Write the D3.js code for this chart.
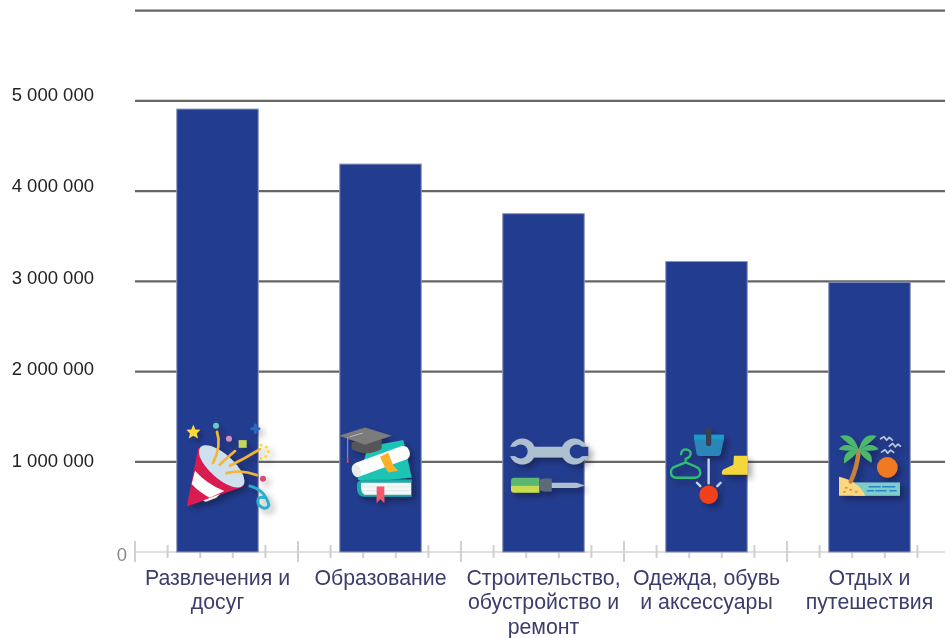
<!DOCTYPE html>
<html>
<head>
<meta charset="utf-8">
<script src="https://cdnjs.cloudflare.com/ajax/libs/d3/7.8.5/d3.min.js"></script>
<style>
  html, body { margin: 0; padding: 0; background: #fff; }
  svg { display: block; }
  text { font-family: "Liberation Sans", Arial, sans-serif; }
</style>
</head>
<body>
<div id="chart"></div>
<script>
var width = 945,
  height = 638;

var categories = [
  ['Развлечения и', 'досуг'],
  ['Образование'],
  ['Строительство,', 'обустройство и', 'ремонт'],
  ['Одежда, обувь', 'и аксессуары'],
  ['Отдых и', 'путешествия']
];
var values = [4910000, 4300000, 3750000, 3220000, 2990000];
var gridValues = [1000000, 2000000, 3000000, 4000000, 5000000, 6000000];
var tickLabels = ['1 000 000', '2 000 000', '3 000 000', '4 000 000', '5 000 000'];
var tickValues = [1000000, 2000000, 3000000, 4000000, 5000000];
var icons = ['party', 'books', 'tools', 'clothes', 'beach'];

var root = d3.select('#chart').append('svg')
  .attr('width', width)
  .attr('height', height);

var defs = root.append('defs');

var filter = defs.append('filter')
  .attr('id', 'shadow')
  .attr('x', '-30%').attr('y', '-30%')
  .attr('width', '170%').attr('height', '170%');
filter.append('feDropShadow')
  .attr('dx', 12).attr('dy', 12)
  .attr('stdDeviation', 9)
  .attr('flood-color', '#000')
  .attr('flood-opacity', 0.33);

// the original is a slightly soft screenshot
defs.append('filter')
  .attr('id', 'soft')
  .attr('filterUnits', 'userSpaceOnUse')
  .attr('x', 0).attr('y', 0)
  .attr('width', width).attr('height', height)
  .append('feGaussianBlur')
  .attr('stdDeviation', 0.4);

var svg = root.append('g').attr('filter', 'url(#soft)');

var x = d3.scaleBand()
  .domain(d3.range(categories.length))
  .range([136, 951])
  .paddingInner(0.5)
  .paddingOuter(0.25);

var y = d3.scaleLinear()
  .domain([0, 6000000])
  .range([552, 10.7]);

// the value labels do not sit quite on the grid lines in the original
var labelY = d3.scaleLinear()
  .domain([1000000, 5000000])
  .range([460.5, 94]);

// grid
svg.selectAll('.grid')
  .data(gridValues)
  .enter().append('line').classed('grid', true)
  .attr('x1', 135)
  .attr('x2', width)
  .attr('y1', function(d) { return y(d); })
  .attr('y2', function(d) { return y(d); })
  .attr('stroke', '#666')
  .attr('stroke-width', 2.2);

// value labels
svg.selectAll('.ylab')
  .data(tickValues)
  .enter().append('text').classed('ylab', true)
  .attr('x', 94)
  .attr('y', function(d) { return labelY(d); })
  .attr('text-anchor', 'end')
  .attr('dominant-baseline', 'central')
  .attr('font-size', 18.5)
  .attr('fill', '#222')
  .text(function(d, i) { return tickLabels[i]; });

svg.append('text')
  .attr('x', 127)
  .attr('y', 554)
  .attr('text-anchor', 'end')
  .attr('dominant-baseline', 'central')
  .attr('font-size', 18.5)
  .attr('fill', '#8a8a8a')
  .text('0');

// ruler axis below the bars, five divisions per category
var step = x.step();
var rulerTicks = d3.range(0, categories.length * 5 + 1);
var ruler = svg.append('g').attr('transform', 'translate(0,' + y(0) + ')');

ruler.append('line')
  .attr('x1', 135)
  .attr('x2', width)
  .attr('stroke', '#d4d4d4')
  .attr('stroke-width', 1.6);

ruler.selectAll('.rt')
  .data(rulerTicks)
  .enter().append('line').classed('rt', true)
  .attr('x1', function(d) { return 135 + d * step / 5; })
  .attr('x2', function(d) { return 135 + d * step / 5; })
  .attr('y1', function(d) {
    var k = d % 5;
    return k == 0 ? -11 : (k == 1 || k == 4 ? -7 : 0);
  })
  .attr('y2', function(d) {
    var k = d % 5;
    return k == 0 ? 10 : 6;
  })
  .attr('stroke', '#d0d0d0')
  .attr('stroke-width', 2);

// bars
svg.selectAll('.bar')
  .data(values)
  .enter().append('rect').classed('bar', true)
  .attr('x', function(d, i) { return x(i); })
  .attr('y', function(d) { return y(d); })
  .attr('width', x.bandwidth())
  .attr('height', function(d) { return y(0) - y(d); })
  .attr('fill', '#243c8f')
  .attr('stroke', '#8d96ba')
  .attr('stroke-width', 1);

// category labels
var catLabels = svg.selectAll('.cat')
  .data(categories)
  .enter().append('text').classed('cat', true)
  .attr('text-anchor', 'middle')
  .attr('font-size', 21.3)
  .attr('fill', '#3a3c6c');

catLabels.selectAll('tspan')
  .data(function(d, i) {
    return d.map(function(s) { return { s: s, i: i }; });
  })
  .enter().append('tspan')
  .attr('x', function(d) { return x(d.i) + x.bandwidth() / 2; })
  .attr('y', function(d, j) { return 584.5 + j * 24.6; })
  .text(function(d) { return d.s; });

// icons, drawn at 3x in their own group and scaled down
var iconOffset = {
  party: [-42.5, -46],
  books: [-45.5, -41],
  tools: [-63.5, -51],
  clothes: [-226.5, -51],
  beach: [-99.5, -41]
};

function path(g, d, fill, stroke, sw) {
  return g.append('path').attr('d', d)
    .attr('fill', fill || 'none')
    .attr('stroke', stroke || 'none')
    .attr('stroke-width', sw || 0)
    .attr('stroke-linecap', 'round')
    .attr('stroke-linejoin', 'round');
}

function circle(g, cx, cy, r, fill) {
  return g.append('circle').attr('cx', cx).attr('cy', cy).attr('r', r).attr('fill', fill);
}

var draw = {
  party: function(g) {
    path(g, 'M35,272 L70,95 L205,212 Z', '#d81b50');
    path(g, 'M60,165 Q95,205 148,226 L104,246 Q70,228 50,205 Z', '#fff');
    path(g, 'M84,254 L136,234 L124,246 L92,258 Z', '#f4f0dc');
    g.append('ellipse')
      .attr('cx', 140).attr('cy', 152).attr('rx', 86).attr('ry', 36)
      .attr('transform', 'rotate(42 140 152)')
      .attr('fill', '#cfe0ee');
    path(g, 'M126,48 Q140,90 114,142', null, '#f6b530', 8);
    path(g, 'M180,106 Q155,128 134,147', null, '#f6b530', 8);
    path(g, 'M255,100 Q210,128 165,150', null, '#f6b530', 8);
    path(g, 'M155,172 Q200,160 245,178', null, '#f6b530', 8);
    path(g, 'M55,26 L61,41 L76,42 L65,53 L69,68 L55,60 L41,68 L45,53 L34,42 L49,41 Z', '#ffd93b');
    circle(g, 123, 30, 9, '#6fc9c0');
    circle(g, 162, 69, 9, '#d98bc0');
    g.append('rect').attr('x', 191).attr('y', 73).attr('width', 24).attr('height', 23).attr('fill', '#c6d85a');
    path(g, 'M241,28 V50 M230,39 H252', null, '#2a6bc0', 9);
    [[258, 88], [274, 94], [280, 108], [272, 122], [258, 128]].forEach(function(p) {
      circle(g, p[0], p[1], 5, '#ffd93b');
    });
    circle(g, 264, 189, 9, '#d84a7a');
    path(g, 'M225,211 Q270,222 282,268 Q272,288 250,266 Q243,240 268,245', null, '#2aaecc', 9);
  },
  books: function(g) {
    path(g, 'M68,176 L100,78 L205,58 L230,170 L90,185 Z', '#1fc4b4');
    path(g, 'M66,190 Q66,178 90,176 L230,176 L230,228 L90,228 Q66,228 66,205 Z', '#1fa9a8');
    path(g, 'M78,186 L228,186 L228,222 L88,222 Q76,215 78,186 Z', '#f4f7f5');
    path(g, 'M82,198 H228 M82,210 H228', null, '#d8e4e2', 2);
    path(g, 'M125,197 H148 V247 L136,235 L125,247 Z', '#f2596a');
    g.append('rect')
      .attr('x', 48).attr('y', 100).attr('width', 180).attr('height', 42).attr('rx', 18)
      .attr('transform', 'rotate(-20 138 121)')
      .attr('fill', '#fff');
    g.append('ellipse')
      .attr('cx', 64).attr('cy', 150).attr('rx', 13).attr('ry', 20)
      .attr('transform', 'rotate(-20 64 150)')
      .attr('fill', '#e6ecec');
    path(g, 'M135,108 L160,96 L175,135 L190,150 L160,155 L150,140 Z', '#fbb02c');
    path(g, 'M50,65 L140,55 L140,85 Q95,110 50,85 Z', '#555');
    path(g, 'M12,45 L90,20 L170,45 L90,72 Z', '#7b7b7b');
    path(g, 'M45,48 L82,37', null, '#ddd', 2);
    path(g, 'M38,50 V112', null, '#c9c9d0', 2);
    path(g, 'M38,112 V124', null, '#e8465a', 5);
  },
  tools: function(g) {
    var steel = '#aebfd0', bar = '#243c8f';
    path(g, 'M150,108 H265 V140 H150 Z', steel);
    circle(g, 127, 122, 39, steel);
    circle(g, 283, 122, 39, steel);
    circle(g, 122, 122, 21, bar);
    circle(g, 290, 122, 21, bar);
    path(g, 'M86,108 H122 V136 H86 Z', bar);
    path(g, 'M290,108 H325 V136 H290 Z', bar);
    path(g, 'M93,210 Q93,201 102,201 H178 V224 H93 Z', '#5cb870');
    path(g, 'M93,224 H178 V246 H102 Q93,246 93,236 Z', '#c9dc50');
    path(g, 'M178,207 L192,203 H215 V242 H192 L178,238 Z', '#5d6a7a');
    path(g, 'M215,216 H290 L315,224 L290,232 H215 Z', steel);
  },
  clothes: function(g) {
    path(g, 'M642,72 H732 V84 L722,130 Q720,136 712,136 H660 Q652,136 650,130 L642,84 Z', '#2a86b8');
    path(g, 'M642,72 H732 V86 H642 Z', '#1f9ac8');
    path(g, 'M686,58 V98', null, '#3b3f50', 16);
    path(g, 'M686,147 V218', null, '#c8d8ee', 7);
    path(g, 'M651,216 L661,226 M722,216 L712,226', null, '#c8d8ee', 7);
    circle(g, 686, 252, 28, '#f0401c');
    path(g, 'M603,130 Q605,116 618,116 Q633,118 632,130 Q630,140 617,144 L617,155 L580,170 Q570,178 574,192 Q578,201 590,201 H645 Q660,200 661,186 Q660,172 648,168 L617,155',
      null, '#2fc06f', 7);
    path(g, 'M762,135 H803 V192 H728 Q722,186 730,176 L760,162 Z', '#f5d63a');
  },
  beach: function(g) {
    g.append('rect').attr('x', 250).attr('y', 185).attr('width', 140).attr('height', 40).attr('fill', '#7fcdc8');
    path(g, 'M207,168 Q265,180 286,225 H207 Z', '#fbd77f');
    circle(g, 352, 140, 31, '#f07a24');
    path(g, 'M242,182 Q262,140 266,90', null, '#c8823a', 13);
    var leaf = '#4cb86c';
    path(g, 'M266,88 Q250,32 210,46 Q232,70 266,88 Z', leaf);
    path(g, 'M266,88 Q225,58 206,86 Q238,92 266,88 Z', leaf);
    path(g, 'M266,88 Q218,84 222,128 Q250,112 266,88 Z', leaf);
    path(g, 'M266,88 Q280,32 320,46 Q298,70 266,88 Z', leaf);
    path(g, 'M266,88 Q305,58 326,86 Q295,92 266,88 Z', leaf);
    path(g, 'M266,88 Q310,88 305,126 Q278,112 266,88 Z', leaf);
    path(g, 'M332,54 L342,48 L350,58 L358,50 L367,58', null, '#b9c8dc', 5);
    path(g, 'M358,76 L368,68 L376,78 L384,70 L391,76', null, '#b9c8dc', 5);
    path(g, 'M335,94 L345,87 L353,97 L362,88 L371,95', null, '#b9c8dc', 5);
    path(g, 'M298,198 H330 M338,198 H374 M292,210 H310 M318,210 H348 M360,210 H378', null, '#2a86c8', 5);
    [[229, 201], [242, 207], [259, 213], [223, 213]].forEach(function(p) {
      g.append('rect').attr('x', p[0] - 4).attr('y', p[1] - 2.5).attr('width', 8).attr('height', 5).attr('fill', '#e0913a');
    });
  }
};

icons.forEach(function(name, i) {
  var off = iconOffset[name];
  var g = svg.append('g')
    .attr('transform', 'translate(' + (x(i) + x.bandwidth() / 2 + off[0]) + ',' + (y(1000000) + off[1]) + ') scale(0.3333)')
    .attr('filter', 'url(#shadow)');
  draw[name](g);
});
</script>
</body>
</html>
